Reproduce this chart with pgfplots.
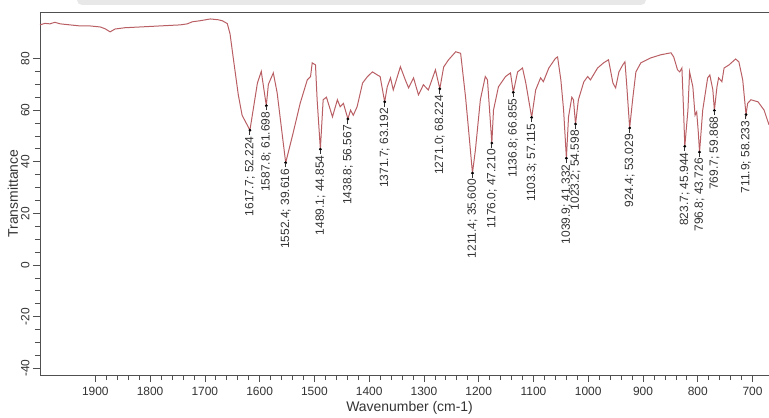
\documentclass[border=0pt]{standalone}
\usepackage{pgfplots}
\usepackage{pgfplotstable}
\pgfplotsset{compat=1.18}
\usepackage{fontspec}
\setmainfont{Liberation Sans}
\definecolor{spec}{RGB}{185,95,100}
\definecolor{axcol}{RGB}{80,80,80}
\newcommand{\tickfont}{\fontsize{12}{14}\selectfont}
\newcommand{\labfont}{\fontsize{14}{16}\selectfont}
\newcommand{\sep}{;\ }

\pgfplotstableread[col sep=comma, row sep=\\]{
x,y,lab\\
1617.7,52.224,1617.7\sep 52.224\\
1587.8,61.698,1587.8\sep 61.698\\
1552.4,39.616,1552.4\sep 39.616\\
1489.1,44.854,1489.1\sep 44.854\\
1438.8,56.567,1438.8\sep 56.567\\
1371.7,63.192,1371.7\sep 63.192\\
1271.0,68.224,1271.0\sep 68.224\\
1211.4,35.600,1211.4\sep 35.600\\
1176.0,47.210,1176.0\sep 47.210\\
1136.8,66.855,1136.8\sep 66.855\\
1103.3,57.115,1103.3\sep 57.115\\
1039.9,41.332,1039.9\sep 41.332\\
1023.2,54.598,1023.2\sep 54.598\\
924.4,53.029,924.4\sep 53.029\\
823.7,45.944,823.7\sep 45.944\\
796.8,43.726,796.8\sep 43.726\\
769.7,59.868,769.7\sep 59.868\\
711.9,58.233,711.9\sep 58.233\\
}\peaks

\begin{document}
\begin{tikzpicture}
\useasboundingbox (-40bp,-43bp) rectangle (729bp,375bp);
% grey toolbar remnant at the top edge
\fill[black!9, rounded corners=5bp] (37bp,370bp) rectangle (606bp,385bp);
\begin{axis}[
    at={(0,0)}, anchor=south west,
    scale only axis, width=729bp, height=363bp,
    x dir=reverse,
    xmin=670, xmax=2001,
    ymin=-42.6, ymax=98,
    axis x line*=bottom, axis y line*=left,
    axis line style={axcol, line width=0.9bp},
    tick style={axcol, line width=0.7bp},
    tick align=outside,
    major tick length=7bp, minor tick length=5bp,
    xtick={700,800,...,1900},
    minor x tick num=4,
    ytick={-40,-20,...,80},
    minor y tick num=3,
    /pgf/number format/assume math mode=true,
    /pgf/number format/set thousands separator={},
    tick label style={font=\tickfont, text=black!80},
    xticklabel style={yshift=-2bp},
    yticklabel style={rotate=90, anchor=south},
    every axis x label/.style={at={([yshift=-33bp]axis description cs:0.507,0)}, anchor=center},
    every axis y label/.style={at={([xshift=-27bp]axis description cs:0,0.5)}, rotate=90, anchor=center},
    xlabel={Wavenumber (cm-1)},
    ylabel={Transmittance},
    label style={font=\labfont, text=black!80},
]
\draw[axcol, line width=0.9bp] (rel axis cs:0,1) -- (rel axis cs:1,1);

\addplot[spec, line width=1bp, mark=none] coordinates {
(2001,93.0) (1992,93.6) (1983,93.4) (1974,94.0) (1964,93.4) (1946,93.0)
(1928,92.6) (1910,92.6) (1891,92.2) (1882,91.5) (1873,90.3) (1864,91.4)
(1846,91.9) (1818,92.2) (1782,92.6) (1745,93.0) (1732,93.4) (1723,94.2)
(1709,94.6) (1690,95.3) (1676,95.0) (1668,94.6) (1659,93.5) (1654,89.5)
(1648,80.0) (1639,66.0) (1632,58.0) (1617.7,52.224) (1604,70.5) (1597,75.0)
(1587.8,61.698) (1584,70.0) (1575,74.4) (1568,66.7) (1559,51.0) (1552.4,39.616)
(1539,51.0) (1526,62.6) (1513,71.7) (1507,73.0) (1504,78.3) (1498,77.5)
(1495,64.0) (1489.1,44.854) (1484,64.0) (1478,65.0) (1467,57.4) (1458,64.0)
(1453,61.3) (1447,62.6) (1438.8,56.567) (1434,60.0) (1429,58.0) (1422,61.3)
(1412,70.5) (1403,73.0) (1394,74.8) (1385,73.6) (1380,73.0) (1371.7,63.192)
(1367,69.0) (1361,72.5) (1356,67.8) (1343,76.8) (1334,71.7) (1328,68.6)
(1319,72.5) (1310,65.9) (1301,69.8) (1292,67.8) (1279,75.6) (1271.0,68.224)
(1264,76.7) (1255,79.5) (1242,82.6) (1233,82.0) (1224,65.0) (1219,53.5)
(1211.4,35.600) (1206,44.6) (1197,64.0) (1188,73.0) (1184,71.7) (1176.0,47.210)
(1173,60.0) (1164,69.0) (1151,73.0) (1142,74.4) (1136.8,66.855) (1129,74.8)
(1120,76.3) (1114,70.5) (1103.3,57.115) (1096,67.8) (1087,72.5) (1082,71.0)
(1072,76.3) (1060,80.0) (1056,80.6) (1050,71.7) (1045,60.0) (1039.9,41.332)
(1036,57.4) (1030,65.0) (1027,64.0) (1023.2,54.598) (1018,64.0) (1008,71.0)
(1001,73.0) (996,71.7) (983,76.3) (972,78.3) (963,79.5) (955,70.5)
(950,68.6) (944,74.8) (937,77.5) (933,78.7) (930,70.5) (924.4,53.029)
(919,64.0) (913,74.8) (904,78.3) (886,80.2) (868,81.4) (849,82.2)
(844,80.6) (837,75.6) (833,74.8) (829,76.3) (826,60.0) (823.7,45.944)
(818,60.0) (815,74.8) (809,69.0) (805,58.0) (802,59.3) (799,51.2)
(796.8,43.726) (791,60.0) (782,72.5) (778,73.6) (772.5,67.8) (769.7,59.868)
(765,69.0) (762,72.5) (756,71.0) (752,76.3) (743,77.5) (731,79.8)
(725,78.7) (718,71.7) (711.9,58.233) (709,62.6) (703,64.0) (690,63.2)
(679,60.0) (670,54.3)
};

\addplot[black, only marks, mark=*, mark size=1.2bp,
    point meta=explicit symbolic,
    nodes near coords={\pgfplotspointmeta\kern1.5bp\rule[0.3em]{4bp}{0.5bp}},
    every node near coord/.append style={font=\tickfont, text=black!80,
        inner sep=0.5bp, rotate=90, anchor=east}]
table[x=x, y=y, meta=lab] {\peaks};
\end{axis}
\end{tikzpicture}
\end{document}
